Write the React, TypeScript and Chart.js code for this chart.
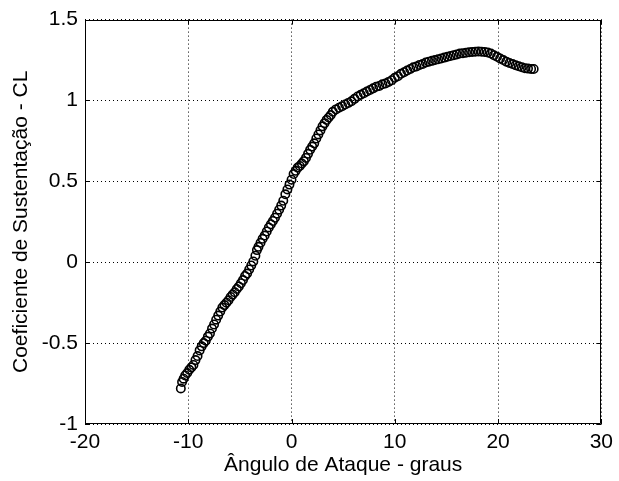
import React, { useEffect, useRef } from 'react';
import { Chart, registerables } from 'chart.js';

Chart.register(...registerables);

// Angle of attack (degrees)
const angles = [
  -10.72, -10.6, -10.45, -10.3, -10.1, -9.9, -9.7, -9.5, -9.3, -9.1,
  -8.9, -8.7, -8.5, -8.3, -8.1, -7.9, -7.7, -7.5, -7.3, -7.1,
  -6.9, -6.7, -6.5, -6.3, -6.1, -5.9, -5.7, -5.5, -5.3, -5.1,
  -4.9, -4.7, -4.5, -4.3, -4.1, -3.9, -3.7, -3.5, -3.35, -3.2,
  -3.0, -2.8, -2.6, -2.4, -2.2, -2.0, -1.8, -1.6, -1.4, -1.2,
  -1.0, -0.8, -0.6, -0.4, -0.2, 0.0, 0.2, 0.4, 0.6, 0.8,
  1.0, 1.2, 1.4, 1.6, 1.8, 2.0, 2.2, 2.4, 2.6, 2.8,
  3.0, 3.2, 3.4, 3.6, 3.8, 4.0, 4.3, 4.6, 4.9, 5.2,
  5.5, 5.8, 6.1, 6.4, 6.7, 7.0, 7.3, 7.6, 7.9, 8.2,
  8.5, 8.8, 9.1, 9.4, 9.7, 10.0, 10.3, 10.6, 10.9, 11.2,
  11.5, 11.8, 12.1, 12.4, 12.7, 13.0, 13.3, 13.6, 13.9, 14.2,
  14.5, 14.8, 15.1, 15.4, 15.7, 16.0, 16.3, 16.6, 16.9, 17.2,
  17.5, 17.8, 18.1, 18.4, 18.7, 19.0, 19.3, 19.6, 19.9, 20.2,
  20.5, 20.8, 21.1, 21.4, 21.7, 22.0, 22.3, 22.6, 22.9, 23.2,
  23.45,
];

// Lift coefficient CL
const liftCoef = [
  -0.78, -0.74, -0.72, -0.70, -0.685, -0.665, -0.65, -0.635, -0.605, -0.58,
  -0.545, -0.52, -0.5, -0.485, -0.46, -0.44, -0.41, -0.385, -0.355, -0.33,
  -0.305, -0.28, -0.265, -0.25, -0.235, -0.215, -0.2, -0.185, -0.165, -0.15,
  -0.13, -0.11, -0.085, -0.07, -0.045, -0.02, 0.005, 0.04, 0.075, 0.095,
  0.12, 0.145, 0.165, 0.19, 0.215, 0.235, 0.255, 0.275, 0.3, 0.325,
  0.35, 0.38, 0.42, 0.45, 0.48, 0.51, 0.545, 0.565, 0.585, 0.595,
  0.61, 0.625, 0.645, 0.67, 0.695, 0.715, 0.735, 0.765, 0.79, 0.815,
  0.84, 0.86, 0.88, 0.895, 0.91, 0.93, 0.945, 0.955, 0.965, 0.975,
  0.985, 0.995, 1.01, 1.025, 1.035, 1.045, 1.055, 1.065, 1.075, 1.085,
  1.09, 1.1, 1.105, 1.115, 1.125, 1.14, 1.15, 1.165, 1.175, 1.185,
  1.195, 1.205, 1.21, 1.22, 1.225, 1.235, 1.24, 1.245, 1.25, 1.255,
  1.26, 1.265, 1.27, 1.275, 1.28, 1.285, 1.29, 1.292, 1.295, 1.298,
  1.3, 1.302, 1.303, 1.302, 1.3, 1.297, 1.29, 1.28, 1.27, 1.26,
  1.25, 1.24, 1.232, 1.225, 1.218, 1.212, 1.206, 1.2, 1.197, 1.195,
  1.195,
];

const xTickValues = [-20, -10, 0, 10, 20, 30];
const yTickValues = [-1, -0.5, 0, 0.5, 1, 1.5];

const xTitle = 'Ângulo de Ataque - graus';
const yTitle = 'Coeficiente de Sustentação - CL';

const FONT = "'Liberation Sans', Arial, sans-serif";

export default function App() {
  const ref = useRef<HTMLCanvasElement>(null);

  useEffect(() => {
    document.body.style.margin = '0';
    const canvas = ref.current;
    if (!canvas) return;

    const framePlugin = {
      id: 'matlabFrame',
      afterDraw(chart: any) {
        const { ctx, chartArea } = chart;
        const { left, right, top, bottom } = chartArea;
        const xs = chart.scales.x;
        const ys = chart.scales.y;
        const tl = 5;
        ctx.save();
        ctx.strokeStyle = '#000';
        ctx.lineWidth = 1;
        ctx.setLineDash([]);
        ctx.beginPath();
        ctx.rect(Math.round(left) + 0.5, Math.round(top) + 0.5, Math.round(right - left) - 1, Math.round(bottom - top) - 1);
        for (const v of xTickValues) {
          const px = Math.round(xs.getPixelForValue(v)) + 0.5;
          ctx.moveTo(px, bottom);
          ctx.lineTo(px, bottom - tl);
          ctx.moveTo(px, top);
          ctx.lineTo(px, top + tl);
        }
        for (const v of yTickValues) {
          const py = Math.round(ys.getPixelForValue(v)) + 0.5;
          ctx.moveTo(left, py);
          ctx.lineTo(left + tl, py);
          ctx.moveTo(right, py);
          ctx.lineTo(right - tl, py);
        }
        ctx.stroke();
        ctx.restore();
      },
    };

    const chart = new Chart(canvas, {
      type: 'scatter',
      data: {
        datasets: [
          {
            data: angles.map((a, i) => ({ x: a, y: liftCoef[i] })),
            pointStyle: 'circle',
            pointRadius: 4.2,
            pointBorderWidth: 1.6,
            borderColor: '#000',
            backgroundColor: 'rgba(0,0,0,0)',
            showLine: false,
          },
        ],
      },
      options: {
        responsive: false,
        animation: false,
        devicePixelRatio: 1,
        layout: { padding: { left: 0, top: 18, right: 14, bottom: 0 } },
        plugins: {
          legend: { display: false },
          tooltip: { enabled: false },
        },
        scales: {
          x: {
            type: 'linear',
            min: -20,
            max: 30,
            afterBuildTicks: (s: any) => {
              s.ticks = xTickValues.map((v) => ({ value: v }));
            },
            afterFit: (s: any) => {
              s.height = 57;
            },
            grid: { color: '#000', lineWidth: 1, drawTicks: false },
            border: { display: false, dash: [1, 3] },
            ticks: {
              color: '#000',
              padding: 6,
              font: { family: FONT, size: 21 },
              maxRotation: 0,
              callback: (v: any) => String(v),
            },
            title: {
              display: true,
              text: xTitle,
              color: '#000',
              font: { family: FONT, size: 21 },
              padding: { top: 3, bottom: 3 },
            },
          },
          y: {
            type: 'linear',
            min: -1,
            max: 1.5,
            afterBuildTicks: (s: any) => {
              s.ticks = yTickValues.map((v) => ({ value: v }));
            },
            afterFit: (s: any) => {
              s.width = 85;
            },
            grid: { color: '#000', lineWidth: 1, drawTicks: false },
            border: { display: false, dash: [1, 3] },
            ticks: {
              color: '#000',
              padding: 7,
              font: { family: FONT, size: 21 },
              callback: (v: any) => String(v),
            },
            title: {
              display: true,
              text: yTitle,
              color: '#000',
              font: { family: FONT, size: 21 },
              padding: { top: 9, bottom: 9 },
            },
          },
        },
      },
      plugins: [framePlugin],
    });

    return () => chart.destroy();
  }, []);

  return <canvas ref={ref} width={619} height={481} style={{ display: 'block' }} />;
}
